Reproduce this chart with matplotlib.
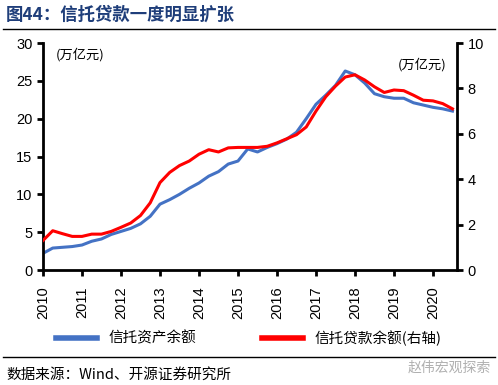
import matplotlib.pyplot as plt
import numpy as np

plt.rcParams['font.family'] = ['Liberation Sans', 'Noto Sans CJK SC', 'DejaVu Sans']

# quarterly points, 2010Q1 .. 2020Q3
years = np.arange(2010, 2020.51, 0.25)
# trust assets, 10^12 yuan (left axis)
trust_assets = [2.2, 2.9, 3.0, 3.1,
                3.3, 3.8, 4.1, 4.7,
                5.1, 5.5, 6.1, 7.1,
                8.7, 9.3, 10.0, 10.8,
                11.5, 12.4, 13.0, 14.0,
                14.4, 16.0, 15.6, 16.2,
                16.7, 17.3, 18.2, 20.0,
                21.9, 23.1, 24.4, 26.3,
                25.8, 24.7, 23.3, 22.9,
                22.7, 22.7, 22.1, 21.8,
                21.5, 21.3, 21.0]
# trust loans, 10^12 yuan (right axis)
trust_loans = [1.30, 1.73, 1.60, 1.48,
               1.48, 1.58, 1.58, 1.70,
               1.88, 2.07, 2.40, 2.96,
               3.85, 4.30, 4.60, 4.80,
               5.10, 5.30, 5.20, 5.38,
               5.40, 5.40, 5.40, 5.45,
               5.60, 5.78, 5.96, 6.30,
               7.00, 7.63, 8.10, 8.50,
               8.60, 8.37, 8.07, 7.82,
               7.93, 7.90, 7.70, 7.48,
               7.45, 7.33, 7.10]
year_ticks = list(range(2010, 2021))
left_ticks = [0, 5, 10, 15, 20, 25, 30]
right_ticks = [0, 2, 4, 6, 8, 10]

fig = plt.figure(figsize=(4.98, 3.85), dpi=100)
ax = fig.add_axes([0.0863, 0.2987, 0.8317, 0.5896])
ax2 = ax.twinx()

l1, = ax.plot(years, trust_assets, color='#4472C4', lw=2.2, label='信托资产余额')
l2, = ax2.plot(years, trust_loans, color='#FF0000', lw=2.2, label='信托贷款余额(右轴)')

ax.set_xlim(2010, 2020.62)
ax.set_ylim(0, 30)
ax2.set_ylim(0, 10)
ax.set_yticks(left_ticks)
ax2.set_yticks(right_ticks)
ax.set_xticks(year_ticks)
ax.set_xticklabels([str(y) for y in year_ticks], rotation=90)

for a in (ax, ax2):
    a.spines['top'].set_visible(False)
    for s in ('left', 'right', 'bottom'):
        a.spines[s].set_linewidth(2)
    a.tick_params(direction='out', length=4, width=2, labelsize=10.5, colors='black')
ax.tick_params(axis='x', pad=8)
ax2.spines['left'].set_visible(False)
ax2.spines['bottom'].set_visible(False)
ax.spines['right'].set_visible(False)

ax.text(0.03, 0.95, '(万亿元)', transform=ax.transAxes, fontsize=9.5,
        family=['Noto Sans CJK SC'], va='center', ha='left')
ax2.text(0.975, 0.905, '(万亿元)', transform=ax2.transAxes, fontsize=9.5,
         family=['Noto Sans CJK SC'], va='center', ha='right')

fig.legend([l1, l2], [l1.get_label(), l2.get_label()], loc='center', ncol=2,
           bbox_to_anchor=(0.5, 0.122), frameon=False, handlelength=2.8,
           columnspacing=4.5, prop={'family': 'Noto Sans CJK SC', 'size': 10.5})
for line in fig.legends[0].get_lines():
    line.set_linewidth(4)

# title and footer
fig.text(0.012, 0.962, '图44：信托贷款一度明显扩张', fontsize=12.5, fontweight='bold',
         color='#1F3E7A', family=['Noto Sans CJK SC'], va='center', ha='left')
fig.add_artist(plt.Line2D([0.006, 0.994], [0.925, 0.925], color='black', lw=1))
fig.add_artist(plt.Line2D([0.006, 0.994], [0.073, 0.073], color='black', lw=1))
fig.text(0.012, 0.027, '数据来源：Wind、开源证券研究所', fontsize=10.5,
         family=['Noto Sans CJK SC'], va='center', ha='left')
fig.text(0.985, 0.045, '赵伟宏观探索', fontsize=10, color='#B0B0B0',
         family=['Noto Sans CJK SC'], va='center', ha='right')

fig.savefig('out.png', dpi=100)
